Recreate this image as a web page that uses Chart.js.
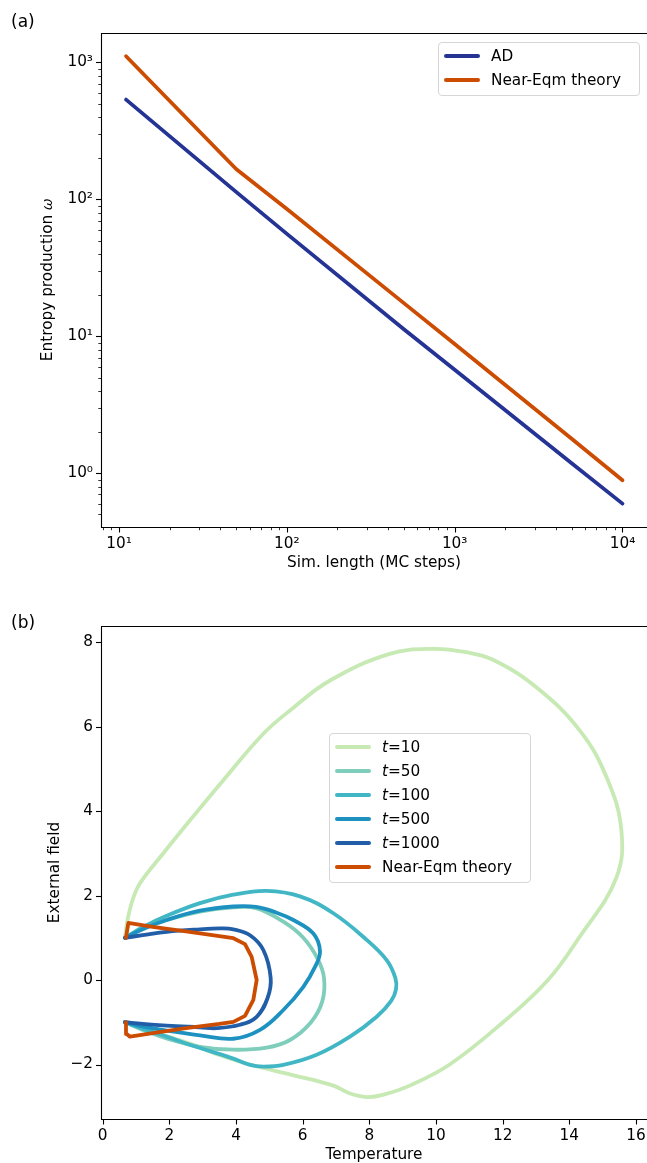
<!DOCTYPE html>
<html>
<head>
<meta charset="utf-8">
<script src="https://cdn.jsdelivr.net/npm/chart.js@4.4.0/dist/chart.umd.min.js"></script>
<style>
  body { margin: 0; background: #fff; font-family: "DejaVu Sans", sans-serif; }
  #page { position: relative; width: 647px; height: 1163px; overflow: hidden; }
  canvas { position: absolute; left: 0; }
  .panel-tag { position: absolute; font-size: 17px; line-height: 17px; color: #000; }
  .legend { position: absolute; background: rgba(255,255,255,0.8); border: 1px solid #d6d6d6; border-radius: 4px; box-sizing: border-box; }
  .legend .swatch { position: absolute; height: 3.8px; border-radius: 2px; }
  .legend .txt { position: absolute; font-size: 15.3px; line-height: 18px; color: #000; white-space: nowrap; }
</style>
</head>
<body>
<div id="page">
  <canvas id="chartA" width="647" height="580" style="top:0"></canvas>
  <canvas id="chartB" width="647" height="583" style="top:580px"></canvas>
  <div class="panel-tag" style="left:11px; top:13px">(a)</div>
  <div class="panel-tag" style="left:11px; top:614px">(b)</div>
  <div class="legend" id="legendA" style="left:438px; top:42px; width:202px; height:54px"></div>
  <div class="legend" id="legendB" style="left:329px; top:733px; width:202px; height:150px"></div>
</div>
<script>
// ---- panel (a): entropy production vs simulation length ----
const simLength = [11, 50, 100, 500, 1000, 5000, 10000];
const adOmega = [535, 113, 56, 11.2, 5.7, 1.18, 0.60];
const nearEqmOmega = [1110, 166, 85, 17.4, 8.8, 1.78, 0.89];

const xMajorA = [10, 100, 1000, 10000];
const xMinorA = [8, 9, 20, 30, 40, 50, 60, 70, 80, 90, 200, 300, 400, 500, 600, 700, 800, 900,
                 2000, 3000, 4000, 5000, 6000, 7000, 8000, 9000];
const yMajorA = [1, 10, 100, 1000];
const yMinorA = [0.5, 0.6, 0.7, 0.8, 0.9, 2, 3, 4, 5, 6, 7, 8, 9, 20, 30, 40, 50, 60, 70, 80, 90,
                 200, 300, 400, 500, 600, 700, 800, 900];

// ---- panel (b): protocols in (temperature, field) space ----
const t10Temp  = [0.67, 0.74, 0.90, 1.12, 1.82, 2.62, 3.62, 4.82, 5.62, 6.82, 8.61, 9.91, 10.91, 11.71, 13.01, 14.31, 15.11, 15.56, 15.40, 14.29, 13.36, 12.01, 10.41, 9.21, 8.40, 7.92, 7.40, 6.92, 5.70, 4.42, 3.40, 2.60, 1.60, 0.67];
const t10Field = [1.00, 1.40, 1.90, 2.29, 3.00, 3.78, 4.73, 5.83, 6.38, 7.09, 7.72, 7.84, 7.76, 7.58, 6.93, 5.91, 4.81, 3.55, 2.40, 1.00, 0.00, -1.00, -2.00, -2.50, -2.72, -2.77, -2.68, -2.50, -2.25, -2.00, -1.75, -1.50, -1.25, -1.00];

const t50Temp  = [0.67, 1.20, 1.92, 2.92, 3.92, 4.60, 5.42, 6.02, 6.45, 6.64, 6.59, 6.25, 5.62, 4.92, 3.92, 2.92, 1.92, 1.20, 0.67];
const t50Field = [1.00, 1.22, 1.42, 1.62, 1.72, 1.70, 1.38, 1.00, 0.50, 0.05, -0.50, -1.00, -1.42, -1.60, -1.65, -1.58, -1.38, -1.18, -1.00];

const t100Temp  = [0.67, 1.20, 1.92, 2.92, 3.92, 4.92, 5.92, 6.92, 7.92, 8.52, 8.78, 8.80, 8.65, 8.22, 7.42, 6.42, 5.42, 4.82, 4.42, 3.92, 2.92, 1.92, 1.20, 0.67];
const t100Field = [1.00, 1.25, 1.52, 1.82, 2.02, 2.11, 1.98, 1.58, 0.95, 0.47, 0.05, -0.22, -0.50, -0.87, -1.34, -1.77, -2.01, -2.05, -2.01, -1.86, -1.61, -1.34, -1.15, -1.00];

const t500Temp  = [0.67, 1.20, 1.92, 2.92, 3.92, 4.60, 5.20, 5.72, 6.32, 6.52, 6.37, 6.02, 5.42, 4.72, 3.92, 2.92, 1.92, 1.20, 0.67];
const t500Field = [1.00, 1.20, 1.42, 1.64, 1.74, 1.73, 1.60, 1.42, 1.10, 0.68, 0.31, -0.16, -0.71, -1.18, -1.39, -1.31, -1.20, -1.10, -1.00];

const t1000Temp  = [0.67, 1.20, 1.92, 2.92, 3.50, 3.92, 4.42, 4.82, 5.04, 4.95, 4.62, 4.12, 3.42, 2.92, 1.92, 1.20, 0.67];
const t1000Field = [1.00, 1.06, 1.14, 1.20, 1.22, 1.20, 1.06, 0.71, 0.05, -0.42, -0.87, -1.06, -1.14, -1.12, -1.08, -1.04, -1.00];

const eqmTemp  = [0.70, 0.77, 1.50, 2.50, 3.50, 3.92, 4.27, 4.47, 4.62, 4.52, 4.27, 3.92, 3.50, 2.50, 1.50, 0.82, 0.72, 0.70];
const eqmField = [1.00, 1.35, 1.26, 1.15, 1.04, 0.99, 0.85, 0.55, 0.00, -0.47, -0.85, -0.99, -1.04, -1.14, -1.26, -1.34, -1.28, -1.00];

const xTicksB = [0, 2, 4, 6, 8, 10, 12, 14, 16];
const yTicksB = [-2, 0, 2, 4, 6, 8];

const legendA = ['AD', 'Near-Eqm theory'];
const coloursA = ['#253494', '#cc4c02'];
const legendB = ['<i>t</i>=10', '<i>t</i>=50', '<i>t</i>=100', '<i>t</i>=500', '<i>t</i>=1000', 'Near-Eqm theory'];
const coloursB = ['#c7e9b4', '#7fcdbb', '#41b6c4', '#1d91c0', '#225ea8', '#cc4c02'];

Chart.defaults.font.family = '"DejaVu Sans", sans-serif';
Chart.defaults.font.size = 15.3;
Chart.defaults.color = '#000';

const supDigits = ['\u2070', '\u00b9', '\u00b2', '\u00b3', '\u2074'];

function makeTicks(major, minor) {
  return major.map(v => ({value: v, major: true}))
    .concat(minor.map(v => ({value: v, major: false})))
    .sort((a, b) => a.value - b.value);
}
function pairs(xs, ys) {
  return xs.map((x, i) => ({x: x, y: ys[i]}));
}
function powLabel(v, i, ticks) {
  if (!ticks[i].major) return '';
  return '10' + supDigits[Math.round(Math.log10(v))];
}

// spines and tick marks, matplotlib style
const frame = {
  id: 'frame',
  afterDraw(chart) {
    const ctx = chart.ctx, a = chart.chartArea;
    const xs = chart.scales.x, ys = chart.scales.y;
    ctx.save();
    ctx.strokeStyle = '#000';
    ctx.lineWidth = 1.1;
    ctx.beginPath();
    ctx.moveTo(a.left + 0.5, a.top + 0.5);
    ctx.lineTo(a.right, a.top + 0.5);
    ctx.moveTo(a.left + 0.5, a.top);
    ctx.lineTo(a.left + 0.5, a.bottom + 0.5);
    ctx.lineTo(a.right, a.bottom + 0.5);
    ctx.stroke();
    xs.ticks.forEach(t => {
      const px = Math.round(xs.getPixelForValue(t.value)) + 0.5;
      ctx.lineWidth = t.major ? 1.1 : 0.8;
      ctx.beginPath();
      ctx.moveTo(px, a.bottom + 0.5);
      ctx.lineTo(px, a.bottom + (t.major ? 5.5 : 3.2));
      ctx.stroke();
    });
    ys.ticks.forEach(t => {
      const py = Math.round(ys.getPixelForValue(t.value)) + 0.5;
      ctx.lineWidth = t.major ? 1.1 : 0.8;
      ctx.beginPath();
      ctx.moveTo(a.left + 0.5, py);
      ctx.lineTo(a.left - (t.major ? 5 : 2.7), py);
      ctx.stroke();
    });
    ctx.restore();
  }
};

function lineSet(label, data, colour, order, tension) {
  return {
    label: label, data: data, showLine: true, borderColor: colour, backgroundColor: colour,
    borderWidth: 3.8, pointRadius: 0, tension: tension, order: order,
    borderCapStyle: 'round', borderJoinStyle: 'round'
  };
}

new Chart(document.getElementById('chartA'), {
  type: 'scatter',
  data: {
    datasets: [
      lineSet('Near-Eqm theory', pairs(simLength, nearEqmOmega), coloursA[1], 1, 0),
      lineSet('AD', pairs(simLength, adOmega), coloursA[0], 2, 0)
    ]
  },
  options: {
    responsive: false, animation: false, events: [],
    layout: {padding: {top: 33, left: 0, right: 0, bottom: 0}},
    plugins: {legend: {display: false}, tooltip: {enabled: false}},
    scales: {
      x: {
        type: 'logarithmic', min: 7.8, max: 14000,
        grid: {display: false, drawTicks: false}, border: {display: false},
        ticks: {padding: 8, autoSkip: false, maxRotation: 0, callback: powLabel},
        title: {display: true, text: 'Sim. length (MC steps)', padding: {top: 0, bottom: 8}},
        afterBuildTicks: s => { s.ticks = makeTicks(xMajorA, xMinorA); },
        afterFit: s => { s.height = 53; s.paddingLeft = 0; s.paddingRight = 0; }
      },
      y: {
        type: 'logarithmic', min: 0.405, max: 1640,
        grid: {display: false, drawTicks: false}, border: {display: false},
        ticks: {padding: 8, autoSkip: false, callback: powLabel},
        title: {display: true, text: 'Entropy production \u{1D714}', padding: {top: 38.5, bottom: 0}},
        afterBuildTicks: s => { s.ticks = makeTicks(yMajorA, yMinorA); },
        afterFit: s => { s.width = 101; s.paddingTop = 0; s.paddingBottom = 0; }
      }
    }
  },
  plugins: [frame]
});

const curvesB = [
  [t10Temp, t10Field], [t50Temp, t50Field], [t100Temp, t100Field],
  [t500Temp, t500Field], [t1000Temp, t1000Field], [eqmTemp, eqmField]
];

new Chart(document.getElementById('chartB'), {
  type: 'scatter',
  data: {
    datasets: curvesB.map((c, i) =>
      lineSet(legendB[i], pairs(c[0], c[1]), coloursB[i], curvesB.length - i, i === 5 ? 0 : 0.4))
  },
  options: {
    responsive: false, animation: false, events: [],
    layout: {padding: {top: 46, left: 0, right: 0, bottom: 0}},
    plugins: {legend: {display: false}, tooltip: {enabled: false}},
    scales: {
      x: {
        type: 'linear', min: -0.05, max: 16.33,
        grid: {display: false, drawTicks: false}, border: {display: false},
        ticks: {padding: 8, autoSkip: false, maxRotation: 0, callback: v => String(v)},
        title: {display: true, text: 'Temperature', padding: {top: 0, bottom: -1}},
        afterBuildTicks: s => { s.ticks = makeTicks(xTicksB, []); },
        afterFit: s => { s.height = 44; s.paddingLeft = 0; s.paddingRight = 0; }
      },
      y: {
        type: 'linear', min: -3.29, max: 8.38,
        grid: {display: false, drawTicks: false}, border: {display: false},
        ticks: {padding: 8, autoSkip: false, callback: v => v < 0 ? '\u2212' + Math.abs(v) : String(v)},
        title: {display: true, text: 'External field', padding: {top: 46, bottom: 0}},
        afterBuildTicks: s => { s.ticks = makeTicks(yTicksB, []); },
        afterFit: s => { s.width = 101; s.paddingTop = 0; s.paddingBottom = 0; }
      }
    }
  },
  plugins: [frame]
});

// legends drawn as html so the t can be italic like the original
function buildLegend(id, labels, colours) {
  const box = document.getElementById(id);
  labels.forEach((lab, i) => {
    const y = 13 + i * 24;
    const sw = document.createElement('div');
    sw.className = 'swatch';
    sw.style.left = '5px';
    sw.style.width = '36px';
    sw.style.top = (y - 1.9) + 'px';
    sw.style.background = colours[i];
    box.appendChild(sw);
    const tx = document.createElement('div');
    tx.className = 'txt';
    tx.style.left = '52px';
    tx.style.top = (y - 9.5) + 'px';
    tx.innerHTML = lab;
    box.appendChild(tx);
  });
}
buildLegend('legendA', legendA, coloursA);
buildLegend('legendB', legendB, coloursB);
</script>
</body>
</html>
